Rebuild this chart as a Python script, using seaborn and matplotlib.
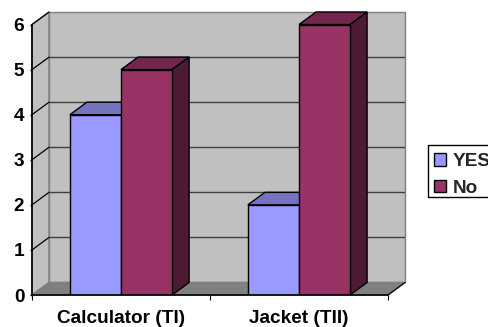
import matplotlib
matplotlib.use('Agg')
import matplotlib.pyplot as plt
import pandas as pd
import seaborn as sns
from matplotlib.colors import to_rgb
from matplotlib.patches import Patch, Polygon, Rectangle

# data
categories = ['Calculator (TI)', 'Jacket (TII)']
yes_values = [4, 2]
no_values = [5, 6]
series_names = ['YES', 'No']
y_ticks = [0, 1, 2, 3, 4, 5, 6]

colors = {'YES': '#9999FF', 'No': '#993366'}
wall = '#C0C0C0'
floor = '#808080'

df = pd.DataFrame({
    'cat': categories * 2,
    'series': ['YES'] * 2 + ['No'] * 2,
    'val': yes_values + no_values,
})

sns.set_theme(style='white')
plt.rcParams['font.family'] = ['Liberation Sans', 'DejaVu Sans']
plt.rcParams['font.weight'] = 'bold'

W, H = 488, 327
fig = plt.figure(figsize=(W / 100, H / 100), dpi=100)

# axes in pixels, includes the fake 3d depth
left, right, top, bottom = 32, 405, 12, 295
ax = fig.add_axes([left / W, 1 - bottom / H, (right - left) / W, (bottom - top) / H])

sns.barplot(data=df, x='cat', y='val', hue='series', hue_order=series_names, palette=colors,
            width=0.574, saturation=1, edgecolor='black', linewidth=1, legend=False, ax=ax, zorder=3)

# depth of the 3d look, in data units
dx = 17 / 177.5
dy = 12.5 / 45
ymax = max(y_ticks)
x0, x1 = -0.5, 1.5
ax.set_xlim(x0, x1 + dx)
ax.set_ylim(0, ymax + dy)
ax.patch.set_visible(False)
ax.grid(False)

# walls and floor
ax.add_patch(Polygon([(x0, 0), (x0 + dx, dy), (x0 + dx, ymax + dy), (x0, ymax)],
                     fc=wall, ec='#808080', lw=1, zorder=0, clip_on=False))
ax.add_patch(Polygon([(x0 + dx, dy), (x1 + dx, dy), (x1 + dx, ymax + dy), (x0 + dx, ymax + dy)],
                     fc=wall, ec='#808080', lw=1, zorder=0, clip_on=False))
ax.add_patch(Polygon([(x0, 0), (x1, 0), (x1 + dx, dy), (x0 + dx, dy)],
                     fc=floor, ec='#808080', lw=1, zorder=1, clip_on=False))

# gridlines on both walls
for v in y_ticks[1:]:
    ax.plot([x0, x0 + dx], [v, v + dy], color='black', lw=0.9, zorder=1, clip_on=False)
    if v < ymax:
        ax.plot([x0 + dx, x1 + dx], [v + dy, v + dy], color='#404040', lw=1, zorder=1)
ax.plot([x1, x1 + dx], [0, dy], color='black', lw=0.9, zorder=2, clip_on=False)

# top and side faces of the bars
def shade(c, f):
    return tuple(i * f for i in to_rgb(c))

for patch in ax.patches[:4]:
    a = patch.get_x()
    b = a + patch.get_width()
    h = patch.get_height()
    c = patch.get_facecolor()
    ax.add_patch(Polygon([(a, h), (b, h), (b + dx, h + dy), (a + dx, h + dy)],
                         fc=shade(c, 0.75), ec='black', lw=1, zorder=3, clip_on=False))
    ax.add_patch(Polygon([(b, 0), (b + dx, dy), (b + dx, h + dy), (b, h)],
                         fc=shade(c, 0.5), ec='black', lw=1, zorder=3, clip_on=False))
# redraw the right-hand bars above the neighbours' side faces
for patch in ax.patches[:4]:
    patch.set_zorder(4)

# axes lines and ticks
for s in ['top', 'right']:
    ax.spines[s].set_visible(False)
ax.spines['left'].set_bounds(0, ymax)
ax.spines['bottom'].set_bounds(x0, x1)
for s in ['left', 'bottom']:
    ax.spines[s].set_color('black')
    ax.spines[s].set_linewidth(1.2)
    ax.spines[s].set_zorder(5)
ax.set_xlabel('')
ax.set_ylabel('')
ax.set_yticks(y_ticks)
ax.set_xticks([0, 1])
ax.set_xticklabels(categories)
ax.set_xticks([-0.5, 0.5, 1.5], minor=True)
ax.tick_params(axis='y', length=1.5, width=1, left=True, pad=4, labelsize=13.7, color='black')
ax.tick_params(axis='x', which='major', length=0, pad=11, labelsize=13.7)
ax.tick_params(axis='x', which='minor', length=3.5, width=0.8, bottom=True, color='black')
for t in ax.get_xticklabels() + ax.get_yticklabels():
    t.set_fontweight('bold')
    t.set_color('black')

# legend runs off the right edge like the original, box drawn by hand for its uneven padding
fig.add_artist(Rectangle((428 / W, 1 - 197 / H), 80 / W, 52 / H, transform=fig.transFigure,
                         fc='white', ec='black', lw=1, clip_on=True))
handles = [Patch(fc=colors[n], ec='black', lw=1, label=n) for n in series_names]
fig.legend(handles=handles, loc='upper left', bbox_to_anchor=(434 / W, 1 - 153 / H),
           borderaxespad=0, frameon=False,
           handlelength=0.65, handleheight=0.65, handletextpad=0.32,
           labelspacing=0.5, borderpad=0, prop={'weight': 'bold', 'size': 13.7})

fig.savefig('out.png', dpi=100)
